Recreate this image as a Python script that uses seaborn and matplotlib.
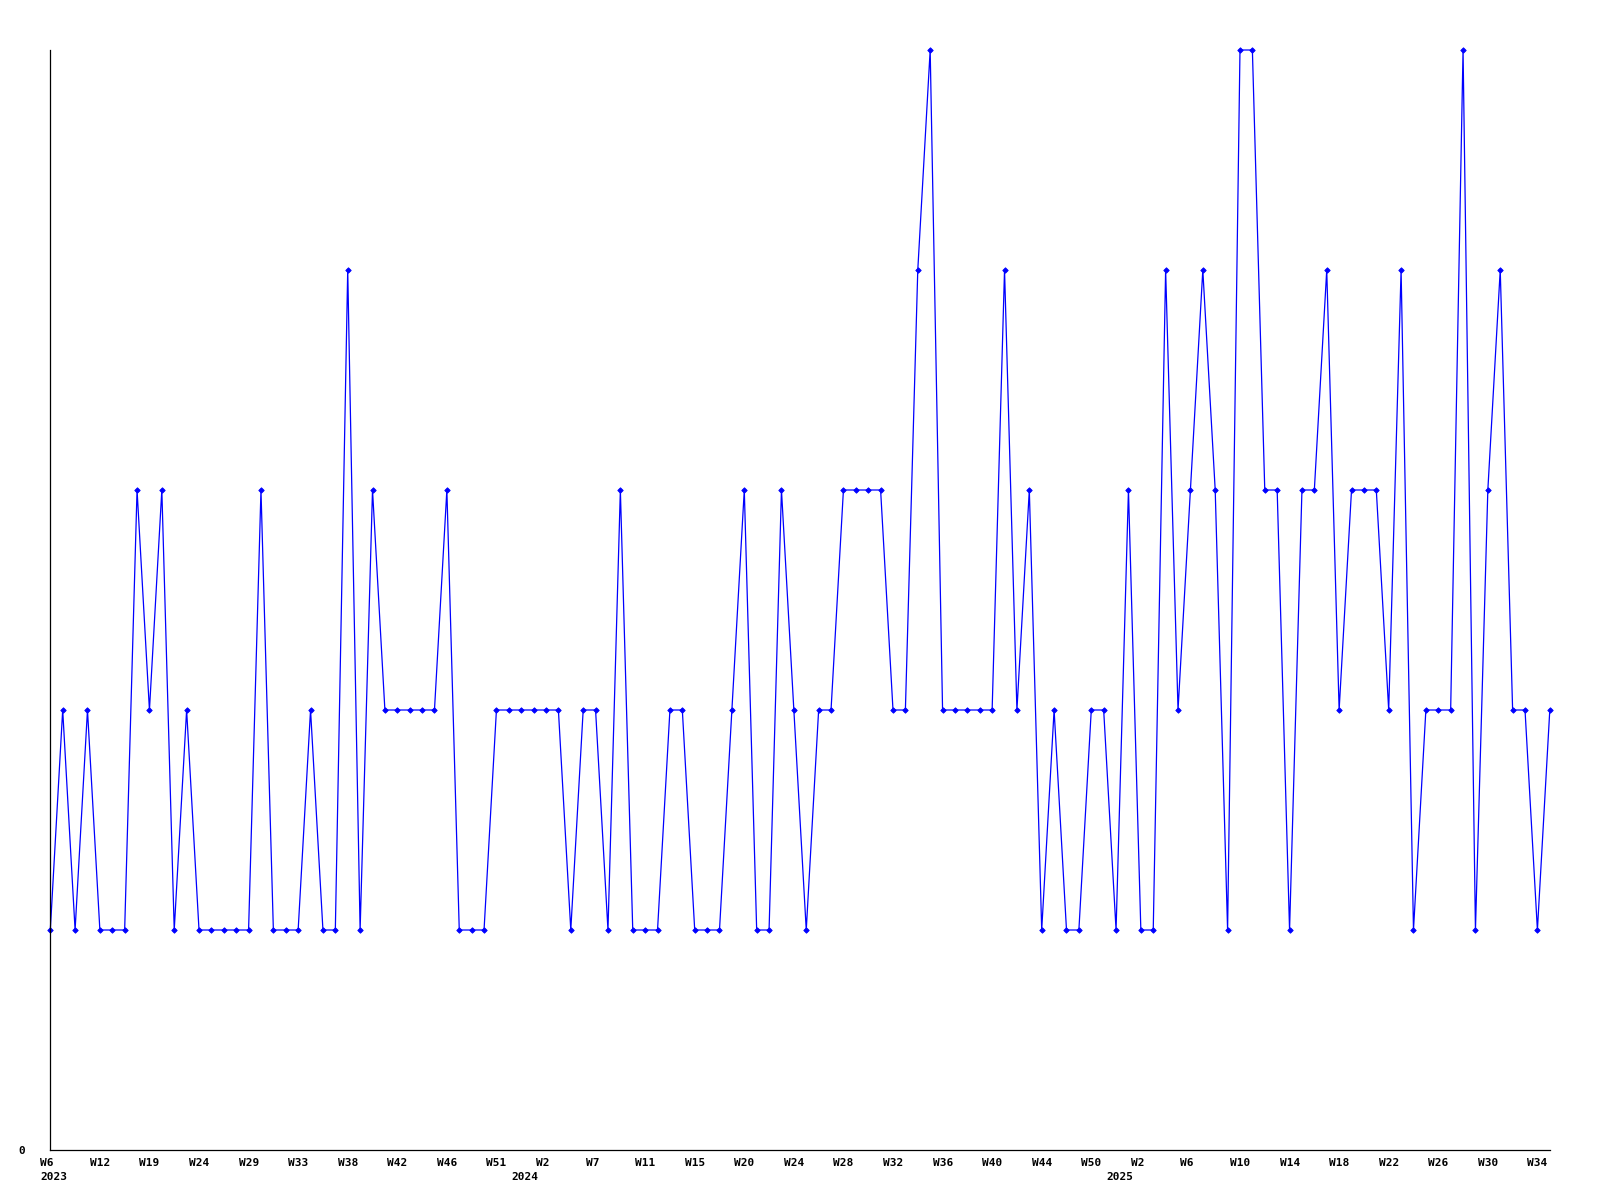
"""Weekly count line chart, recreated with seaborn."""

import matplotlib

matplotlib.use("Agg")

import matplotlib.pyplot as plt
import matplotlib.transforms as mtransforms
import pandas as pd
import seaborn as sns

# ISO-ish week numbers per year, in plotting order
weeks_2023 = [6, 7, 9, 11, 12, 14, 15, 17, 19, 20, 21, 23, 24, 25, 26, 28, 29, 30, 31,
              32, 33, 35, 36, 37, 38, 39, 40, 41, 42, 43, 44, 45, 46, 47, 49, 50, 51, 52]
weeks_2024 = [0, 1, 2, 3, 4, 6, 7, 8, 9, 10, 11, 12, 13, 14, 15, 16, 18, 19, 20, 21, 22,
              23, 24, 25, 26, 27, 28, 29, 30, 31, 32, 33, 34, 35, 36, 37, 38, 39, 40, 41,
              42, 43, 44, 46, 47, 48, 50, 51]
weeks_2025 = [0, 1, 2, 3, 4, 5, 6, 7, 8, 9, 10, 11, 12, 13, 14, 15, 16, 17, 18, 19, 20,
              21, 22, 23, 24, 25, 26, 27, 28, 29, 30, 31, 32, 33, 34, 35]
years = [2023, 2024, 2025]

counts = [
    1, 2, 1, 2, 1, 1, 1, 3, 2, 3,
    1, 2, 1, 1, 1, 1, 1, 3, 1, 1,
    1, 2, 1, 1, 4, 1, 3, 2, 2, 2,
    2, 2, 3, 1, 1, 1, 2, 2, 2, 2,
    2, 2, 1, 2, 2, 1, 3, 1, 1, 1,
    2, 2, 1, 1, 1, 2, 3, 1, 1, 3,
    2, 1, 2, 2, 3, 3, 3, 3, 2, 2,
    4, 5, 2, 2, 2, 2, 2, 4, 2, 3,
    1, 2, 1, 1, 2, 2, 1, 3, 1, 1,
    4, 2, 3, 4, 3, 1, 5, 5, 3, 3,
    1, 3, 3, 4, 2, 3, 3, 3, 2, 4,
    1, 2, 2, 2, 5, 1, 3, 4, 2, 2,
    1, 2,
]

week_lists = [weeks_2023, weeks_2024, weeks_2025]
rows = []
for year, weeks in zip(years, week_lists):
    for wk in weeks:
        rows.append({"year": year, "week": f"W{wk}"})
frame = pd.DataFrame(rows)
frame["idx"] = range(len(frame))
frame["count"] = counts

sns.set_style("white")
plt.rcParams["font.family"] = ["DejaVu Sans Mono"]
plt.rcParams["font.weight"] = "bold"

fig = plt.figure(figsize=(16, 12), dpi=100)
ax = fig.add_axes([50.3 / 1600, 1 - 1150 / 1200, 1499.5 / 1600, 1100 / 1200])

sns.lineplot(
    data=frame,
    x="idx",
    y="count",
    ax=ax,
    color="#0000ff",
    linewidth=0.9,
    marker="D",
    markersize=2.8,
    markeredgecolor="#0000ff",
    markerfacecolor="#0000ff",
    markeredgewidth=0.6,
    clip_on=False,
)

ax.set_xlim(0, len(frame) - 1)
ax.set_ylim(0, 5)
ax.set_xlabel("")
ax.set_ylabel("")

for side in ["top", "right"]:
    ax.spines[side].set_visible(False)
for side in ["left", "bottom"]:
    ax.spines[side].set_color("black")
    ax.spines[side].set_linewidth(0.9)

# week labels every 4th point, year label on the first point of each year
major = frame.iloc[::4]
ax.set_xticks(major["idx"].tolist(), major["week"].tolist())
first_of_year = frame.drop_duplicates("year")
ax.set_xticks(first_of_year["idx"].tolist(), [str(y) for y in first_of_year["year"]], minor=True)
ax.xaxis.remove_overlapping_locs = False

ax.set_yticks([0], ["0"])
ax.tick_params(axis="both", which="both", length=0, labelsize=8, labelcolor="black")
ax.tick_params(axis="x", which="major", pad=5.5)
ax.tick_params(axis="x", which="minor", pad=15.5)
ax.tick_params(axis="y", pad=18)

shift = mtransforms.ScaledTranslation(-10 / 100, 0, fig.dpi_scale_trans)
for label in ax.get_xticklabels(which="both"):
    label.set_horizontalalignment("left")
    label.set_transform(label.get_transform() + shift)
    label.set_fontweight("bold")
for label in ax.get_yticklabels():
    label.set_fontweight("bold")

fig.savefig("out.png", dpi=100, facecolor="white")
plt.close(fig)
